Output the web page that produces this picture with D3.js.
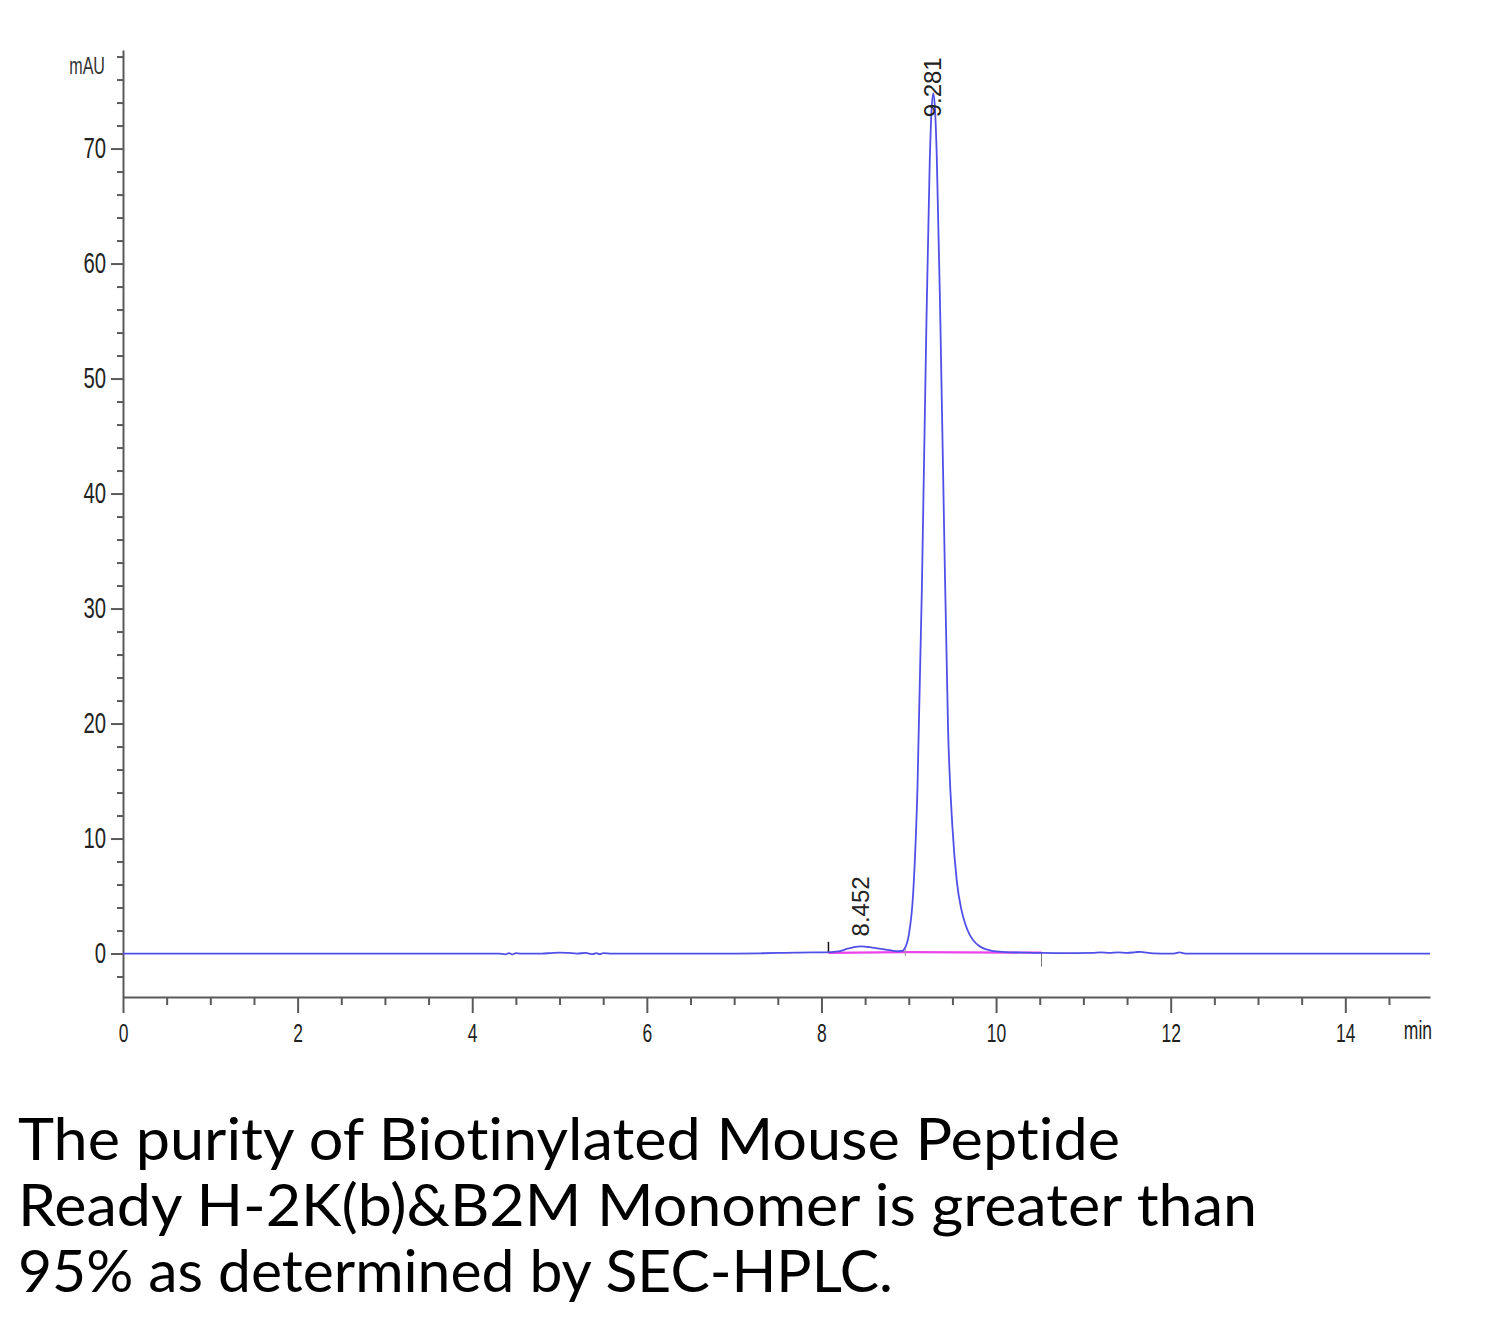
<!DOCTYPE html>
<html>
<head>
<meta charset="utf-8">
<script src="https://cdn.jsdelivr.net/npm/d3@7"></script>
<style>
  html, body { margin: 0; padding: 0; background: #fff; }
  svg { display: block; }
</style>
</head>
<body>
<svg id="chart" width="1500" height="1318"></svg>
<script>
// ---- data ----
const timeMin = [0, 0.5, 1, 1.5, 2, 2.5, 3, 3.5, 4, 4.3, 4.38, 4.42, 4.46, 4.5, 4.55, 4.8, 4.9, 5.0, 5.1, 5.2, 5.3, 5.38, 5.42, 5.46, 5.5, 5.6, 6, 6.5, 7, 7.3, 7.5, 7.7, 7.9, 8.0, 8.1, 8.2, 8.25, 8.3, 8.35, 8.4, 8.45, 8.5, 8.55, 8.6, 8.7, 8.8, 8.86, 8.92, 8.95, 9.0, 9.05, 9.1, 9.15, 9.2, 9.24, 9.26, 9.281, 9.3, 9.32, 9.36, 9.4, 9.45, 9.5, 9.55, 9.6, 9.65, 9.7, 9.75, 9.8, 9.85, 9.9, 9.95, 10.0, 10.1, 10.3, 10.5, 10.8, 11.1, 11.2, 11.3, 11.4, 11.5, 11.6, 11.65, 11.7, 11.8, 12.0, 12.05, 12.1, 12.15, 12.2, 12.5, 13, 13.5, 14, 14.5, 14.97];
const signalMAU = [0, 0, 0, 0, 0, 0, 0, 0, 0, 0, -0.08, 0.04, -0.08, 0.03, 0, 0, 0.04, 0.08, 0.05, 0, 0.05, -0.06, 0.04, -0.06, 0.03, 0, 0, 0, 0, 0.02, 0.05, 0.08, 0.1, 0.1, 0.12, 0.18, 0.3, 0.42, 0.52, 0.58, 0.62, 0.6, 0.55, 0.5, 0.38, 0.27, 0.2, 0.22, 0.4, 1.6, 5.2, 14.5, 31.7, 53.9, 68.8, 73.2, 74.8, 73.5, 69.5, 55.7, 38.9, 19.5, 11.0, 6.3, 3.9, 2.5, 1.6, 1.05, 0.7, 0.47, 0.33, 0.24, 0.18, 0.12, 0.08, 0.05, 0.04, 0.05, 0.1, 0.05, 0.1, 0.05, 0.12, 0.15, 0.1, 0.02, 0.0, 0.02, 0.1, 0.02, 0, 0, 0, 0, 0, 0, 0];

const peakTimes  = [8.452, 9.281];
const peakLabels = ["8.452", "9.281"];
const peakHeights = [0.62, 74.8];

const integrationBaseline = [[8.08, 0.06], [8.96, 0.12], [10.52, 0.08]];
const integrationMarks = [8.08, 8.96, 10.52];

const xMajorTicks = [0, 2, 4, 6, 8, 10, 12, 14];
const yMajorTicks = [0, 10, 20, 30, 40, 50, 60, 70];
const xUnit = "min";
const yUnit = "mAU";

const captionLines = [
  "The purity of Biotinylated Mouse Peptide",
  "Ready H-2K(b)&B2M Monomer is greater than",
  "95% as determined by SEC-HPLC."
];

// ---- layout ----
const svg = d3.select("#chart");
svg.append("rect").attr("width", 1500).attr("height", 1318).attr("fill", "#fff");

const x = d3.scaleLinear().domain([0, 14.97]).range([123, 1430]);
const y = d3.scaleLinear().domain([-3.78, 78.57]).range([997, 50]);

const axisColor = "#5a5a5a";
const labelFont = "'Liberation Sans', Arial, sans-serif";
const narrow = 0.7;

// x axis: minor ticks every 0.5
const xMinor = d3.range(0, 14.97, 0.5).filter(v => !xMajorTicks.includes(v));
const xAxisG = svg.append("g").attr("transform", `translate(0,${y.range()[0]})`);
xAxisG.call(d3.axisBottom(x).tickValues(xMinor).tickSize(8).tickFormat(""))
  .call(g => g.select(".domain").remove());
xAxisG.append("g").call(d3.axisBottom(x).tickValues(xMajorTicks).tickSize(16).tickSizeOuter(0).tickPadding(11).tickFormat(d3.format("d")))
  .call(g => g.selectAll("text")
    .attr("font-family", labelFont).attr("font-size", 25).attr("fill", "#222")
    .attr("transform", `scale(${narrow},1)`));
xAxisG.selectAll("line, path").attr("stroke", axisColor).attr("stroke-width", 2);
xAxisG.append("text").text(xUnit)
  .attr("transform", `translate(1432,42) scale(${narrow},1)`)
  .attr("text-anchor", "end").attr("font-family", labelFont).attr("font-size", 25).attr("fill", "#222");

// y axis: minor ticks every 2
const yMinor = d3.range(-2, 79, 2).filter(v => !yMajorTicks.includes(v));
const yAxisG = svg.append("g").attr("transform", `translate(${x.range()[0]},0)`);
yAxisG.call(d3.axisLeft(y).tickValues(yMinor).tickSize(6).tickFormat(""))
  .call(g => g.select(".domain").remove());
yAxisG.append("g").call(d3.axisLeft(y).tickValues(yMajorTicks).tickSize(12).tickSizeOuter(0).tickPadding(5).tickFormat(d3.format("d")))
  .call(g => g.selectAll("text")
    .attr("font-family", labelFont).attr("font-size", 29).attr("fill", "#222")
    .attr("x", 0)
    .attr("transform", `translate(-17,0) scale(${narrow},1)`));
yAxisG.selectAll("line, path").attr("stroke", axisColor).attr("stroke-width", 2);
yAxisG.append("text").text(yUnit)
  .attr("transform", `translate(-18,74) scale(${narrow},1)`)
  .attr("text-anchor", "end").attr("font-family", labelFont).attr("font-size", 23).attr("fill", "#333");

// integration baseline (magenta)
svg.append("path")
  .datum(integrationBaseline)
  .attr("fill", "none")
  .attr("stroke", "#ea44ea")
  .attr("stroke-width", 2.2)
  .attr("d", d3.line().x(d => x(d[0])).y(d => y(d[1])));

// integration event marks
svg.append("line").attr("x1", x(integrationMarks[0])).attr("x2", x(integrationMarks[0]))
  .attr("y1", y(0.06)).attr("y2", y(0.06) - 11).attr("stroke", "#111").attr("stroke-width", 1.5);
svg.append("line").attr("x1", x(integrationMarks[1])).attr("x2", x(integrationMarks[1]))
  .attr("y1", y(0.12) - 3).attr("y2", y(0.12) + 4).attr("stroke", "#999").attr("stroke-width", 1);
svg.append("line").attr("x1", x(integrationMarks[2])).attr("x2", x(integrationMarks[2]))
  .attr("y1", y(0.08)).attr("y2", y(0.08) + 14).attr("stroke", "#777").attr("stroke-width", 1);

// signal trace
const trace = timeMin.map((t, i) => [t, signalMAU[i]]);
svg.append("path")
  .datum(trace)
  .attr("fill", "none")
  .attr("stroke", "#5050e8")
  .attr("stroke-width", 1.8)
  .attr("stroke-linejoin", "round")
  .attr("d", d3.line().x(d => x(d[0])).y(d => y(d[1])).curve(d3.curveMonotoneX));

// peak labels (rotated)
const labelOffsets = [-10, 24];
peakTimes.forEach((t, i) => {
  const px = x(t) + 8, py = y(peakHeights[i]) + labelOffsets[i];
  svg.append("text")
    .text(peakLabels[i])
    .attr("transform", `translate(${px},${py}) rotate(-90)`)
    .attr("font-family", "'Liberation Sans', Arial, sans-serif")
    .attr("font-size", 24)
    .attr("fill", "#222");
});

// caption
const capWidths = [1102, 1239, 875];
captionLines.forEach((line, i) => {
  svg.append("text")
    .text(line)
    .attr("x", 18)
    .attr("y", 1160 + i * 66)
    .attr("font-family", "Lato, 'Open Sans', sans-serif")
    .attr("font-size", 58)
    .attr("fill", "#000")
    .style("font-variant-ligatures", "none")
    .style("font-feature-settings", "'liga' 0, 'clig' 0")
    .attr("textLength", capWidths[i])
    .attr("lengthAdjust", "spacingAndGlyphs");
});
</script>
</body>
</html>
